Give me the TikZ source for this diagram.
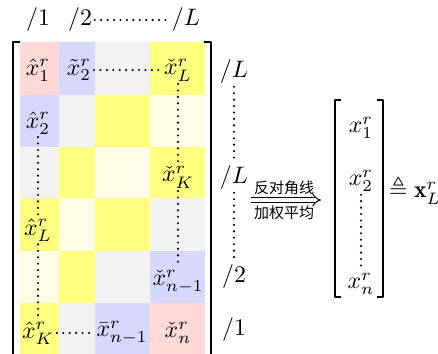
\documentclass[tikz,border=0pt]{standalone}
\usepackage{fontspec}
\usepackage{amsmath,amssymb}
\newfontfamily\cjk{Noto Sans CJK SC}
\usetikzlibrary{arrows.meta}
\definecolor{cpink}{RGB}{255,216,216}
\definecolor{cblue}{RGB}{216,216,255}
\definecolor{cgray}{RGB}{242,242,242}
\definecolor{cyel}{RGB}{255,255,128}
\definecolor{clyel}{RGB}{255,253,230}
\tikzset{
  ent/.style={inner sep=1pt},
  dots/.style={line width=1pt,line cap=round,dash pattern=on 0pt off 2.7pt},
  brk/.style={line width=0.6pt}
}
\begin{document}
\begin{tikzpicture}[x=0.42pt,y=-0.42pt,line join=round,font=\normalsize]
			\useasboundingbox (0,0) rectangle (438,353);
			% cell colours, row by row
			\foreach \r/\ya/\yb/\ca/\cb/\cc/\cd in {
				1/42/95/cpink/cblue/cgray/cyel,
				2/95/147/cblue/cgray/cyel/clyel,
				3/147/198/cgray/cyel/clyel/cyel,
				4/198/251/cyel/clyel/cyel/cgray,
				5/251/303/clyel/cyel/cgray/cblue,
				6/303/360/cyel/cgray/cblue/cpink}{
				\fill[\ca] (20,\ya) rectangle (59,\yb);
				\fill[\cb] (59,\ya) rectangle (95,\yb);
				\fill[\cc] (95,\ya) rectangle (150,\yb);
				\fill[\cd] (150,\ya) rectangle (205,\yb);
			}
			% matrix brackets
			\draw[brk] (20,42)--(13,42)--(13,360);
			\draw[brk] (204,42)--(211,42)--(211,360);
			% column labels
			\node[ent] (t1) at (38,20) {$/1$};
			\node[ent] (t2) at (80,20) {$/2$};
			\node[ent] (tL) at (186,20) {$/L$};
			% entries
			\node[ent] (a11) at (38,70) {$\hat{x}_1^r$};
			\node[ent] (a12) at (79,70) {$\tilde{x}_2^r$};
			\node[ent] (a14) at (178,70) {$\check{x}_L^r$};
			\node[ent] (a21) at (38,123) {$\hat{x}_2^r$};
			\node[ent] (a34) at (178,177) {$\check{x}_K^r$};
			\node[ent] (a41) at (38,230) {$\hat{x}_L^r$};
			\node[ent] (a54) at (178,282) {$\check{x}_{n-1}^r$};
			\node[ent] (a61) at (38,333) {$\hat{x}_K^r$};
			\node[ent] (a63) at (122,333) {$\bar{x}_{n-1}^r$};
			\node[ent] (a64) at (178,333) {$\check{x}_n^r$};
			% row labels
			\node[ent] (rL1) at (234,72) {$/L$};
			\node[ent] (rL2) at (234,178) {$/L$};
			\node[ent] (r2) at (234,277) {$/2$};
			\node[ent] (r1) at (234,330) {$/1$};
			% dotted runs
			\draw[dots] (t2.east)--(tL.west);
			\draw[dots] (a12.east)--(a14.west);
			\draw[dots] (a61.east)--(a63.west);
			\draw[dots] (a21.south)--(a41.north);
			\draw[dots] (a41.south)--(a61.north);
			\draw[dots] (a14.south)--(a34.north);
			\draw[dots] (a34.south)--(a54.north);
			\draw[dots] (rL1.south)--(rL2.north);
			\draw[dots] (rL2.south)--(r2.north);
			% averaging arrow
			\coordinate (arrA) at (251,200);
			\coordinate (arrB) at (321,200);
			\draw[double,double distance=1.5pt,line width=0.4pt,-{Implies}] (arrA)--(arrB);
			\node[ent,font=\cjk\fontsize{6.3}{8}\selectfont] (up) at (284,188) {反对角线};
			\node[ent,font=\cjk\fontsize{6.3}{8}\selectfont] (dn) at (284,213) {加权平均};
			% result vector
			\draw[brk] (341,100)--(335,100)--(335,297)--(341,297);
			\draw[brk] (377,100)--(383,100)--(383,297)--(377,297);
			\node[ent] (v1) at (361,128) {$x_1^r$};
			\node[ent] (v2) at (361,181) {$x_2^r$};
			\node[ent] (vn) at (361,284) {$x_n^r$};
			\draw[dots] (v2.south)--(vn.north);
			\node[ent] (def) at (415,190) {$\triangleq \mathbf{x}_L^r$};
		\end{tikzpicture}
\end{document}
